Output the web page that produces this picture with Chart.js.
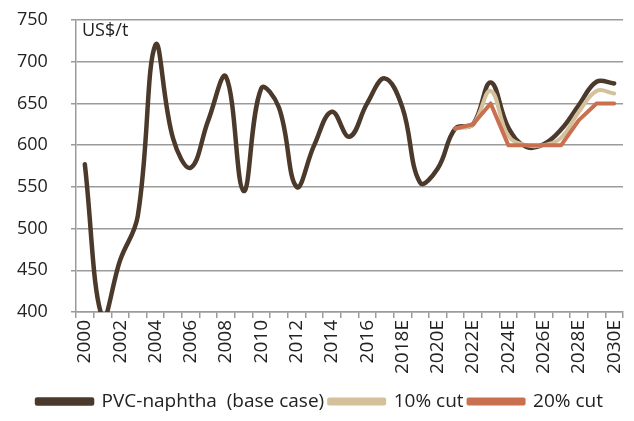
<!DOCTYPE html>
<html>
<head>
<meta charset="utf-8">
<script src="https://cdn.jsdelivr.net/npm/chart.js@4/dist/chart.umd.min.js"></script>
<style>
  html, body { margin: 0; padding: 0; background: #fff; }
  #wrap { width: 634px; height: 421px; }
</style>
</head>
<body>
<div id="wrap"><canvas id="chart" width="634" height="421"></canvas></div>
<script>
const years = ['2000', '2001', '2002', '2003', '2004', '2005', '2006', '2007', '2008', '2009',
    '2010', '2011', '2012', '2013', '2014', '2015', '2016', '2017', '2018E', '2019E',
    '2020E', '2021E', '2022E', '2023E', '2024E', '2025E', '2026E', '2027E', '2028E', '2029E', '2030E'];

const baseCase = [577, 393, 462, 515, 720, 608, 573, 630, 682, 545,
    668, 645, 550, 600, 640, 610, 650, 680, 645, 555,
    572, 620, 625, 675, 621, 598, 601, 619, 648, 676, 674];

const cut10 = [null, null, null, null, null, null, null, null, null, null,
    null, null, null, null, null, null, null, null, null, null,
    null, 620, 625, 665, 611, 600, 600, 609, 640, 665, 662];

const cut20 = [null, null, null, null, null, null, null, null, null, null,
    null, null, null, null, null, null, null, null, null, null,
    null, 620, 625, 650, 600, 600, 600, 600, 630, 650, 650];

const yTicks = [400, 450, 500, 550, 600, 650, 700, 750];

const GRID = '#9b9b9b';
const FONT = "'Open Sans', 'Noto Sans', sans-serif";

// small "US$/t" unit label in the top-left corner of the plot
const unitLabel = {
    id: 'unitLabel',
    afterDraw(chart) {
        const { ctx, chartArea } = chart;
        ctx.save();
        ctx.font = '18px ' + FONT;
        ctx.fillStyle = '#222';
        ctx.textBaseline = 'top';
        ctx.fillText('US$/t', chartArea.left + 6, chartArea.top + 2);
        ctx.restore();
    }
};

new Chart(document.getElementById('chart'), {
    type: 'line',
    data: {
        labels: years,
        datasets: [
            {
                label: '20% cut',
                data: cut20,
                borderColor: '#c8704f',
                backgroundColor: '#c8704f',
                borderWidth: 4,
                tension: 0,
                order: 1
            },
            {
                label: '10% cut',
                data: cut10,
                borderColor: '#d4c09a',
                backgroundColor: '#d4c09a',
                borderWidth: 4,
                tension: 0.4,
                order: 2
            },
            {
                label: 'PVC-naphtha  (base case)',
                data: baseCase,
                borderColor: '#4b3a2b',
                backgroundColor: '#4b3a2b',
                borderWidth: 4.5,
                tension: 0.4,
                order: 3
            }
        ]
    },
    options: {
        responsive: false,
        animation: false,
        layout: { padding: { top: 20, right: 11, left: 17, bottom: 0 } },
        elements: {
            point: { radius: 0, hoverRadius: 0 },
            line: { borderCapStyle: 'round', borderJoinStyle: 'round' }
        },
        plugins: {
            tooltip: { enabled: false },
            legend: {
                position: 'bottom',
                reverse: true,
                labels: {
                    boxWidth: 55,
                    boxHeight: 4,
                    padding: 5,
                    color: '#222',
                    font: { family: FONT, size: 19 }
                }
            }
        },
        scales: {
            x: {
                offset: true,
                grid: {
                    offset: true,
                    drawOnChartArea: false,
                    drawTicks: true,
                    tickLength: 6,
                    color: GRID,
                    lineWidth: 1.5
                },
                border: { color: GRID, width: 1.5 },
                ticks: {
                    autoSkip: false,
                    maxRotation: 90,
                    minRotation: 90,
                    padding: 2,
                    color: '#222',
                    font: { family: FONT, size: 19 },
                    callback: (v, i) => (i % 2 === 0 ? years[i] : '')
                },
                afterFit(scale) {
                    scale.height = 75;
                    scale.paddingLeft = 0;
                    scale.paddingRight = 0;
                }
            },
            y: {
                min: 400,
                max: 750,
                afterBuildTicks(scale) { scale.ticks = yTicks.map(v => ({ value: v })); },
                grid: { color: GRID, lineWidth: 1.5, tickLength: 5 },
                border: { color: GRID, width: 1.5 },
                ticks: {
                    padding: 4,
                    crossAlign: 'far',
                    color: '#222',
                    font: { family: FONT, size: 18 }
                },
                afterFit(scale) {
                    scale.width = 59;
                    scale.paddingTop = 0;
                    scale.paddingBottom = 0;
                }
            }
        }
    },
    plugins: [unitLabel]
});
</script>
</body>
</html>
